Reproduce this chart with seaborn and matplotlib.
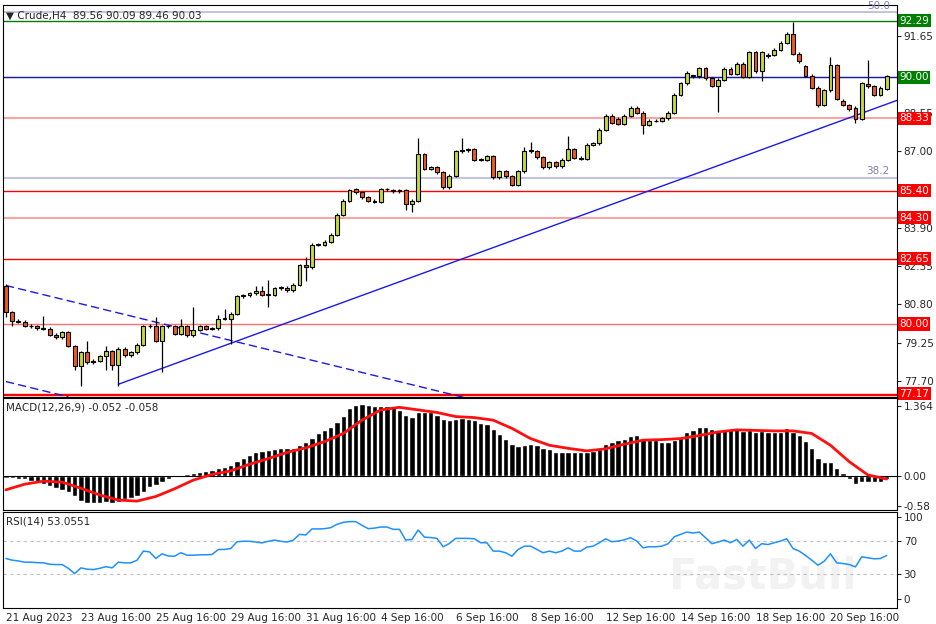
import numpy as np
import pandas as pd
import matplotlib
matplotlib.use("Agg")
import matplotlib.pyplot as plt
import matplotlib.transforms as mtrans
import seaborn as sns

# ---- data (H4 bars, index 0..141) ----
opens = [81.56, 80.48, 80.14, 80.10, 79.94, 79.90, 79.83, 79.81, 79.56, 79.47,
         79.67, 79.11, 78.30, 78.86, 78.46, 78.52, 78.69, 78.89, 78.35, 79.00,
         78.73, 78.86, 79.16, 79.90, 79.94, 79.33, 79.90, 79.90, 79.60, 79.90,
         79.54, 79.77, 79.90, 79.81, 79.83, 80.21, 80.21, 80.42, 81.12, 81.16,
         81.25, 81.32, 81.18, 81.18, 81.45, 81.47, 81.36, 81.60, 82.37, 82.30,
         83.21, 83.21, 83.34, 83.61, 84.42, 85.00, 85.45, 85.34, 85.14, 85.00,
         84.96, 85.45, 85.41, 85.38, 85.41, 84.87, 85.00, 86.87, 86.28, 86.35,
         86.15, 85.54, 86.01, 86.99, 87.03, 87.07, 86.65, 86.65, 86.80, 85.95,
         86.18, 85.99, 85.65, 86.18, 87.00, 87.00, 86.76, 86.35, 86.56, 86.39,
         86.65, 87.07, 86.73, 86.70, 87.26, 87.32, 87.86, 88.44, 88.31, 88.11,
         88.43, 88.75, 88.55, 88.08, 88.24, 88.23, 88.33, 88.55, 89.28, 89.75,
         90.04, 90.04, 90.36, 89.96, 89.65, 89.89, 90.33, 90.13, 90.54, 90.02,
         91.01, 90.24, 90.85, 90.90, 91.10, 91.39, 91.75, 90.94, 90.43, 90.06,
         89.56, 88.89, 89.46, 90.47, 89.05, 88.85, 88.75, 88.31, 89.73, 89.62,
         89.29, 89.52]
closes = [80.48, 80.14, 80.10, 79.94, 79.90, 79.83, 79.81, 79.56, 79.47, 79.67,
          79.11, 78.30, 78.86, 78.46, 78.52, 78.69, 78.89, 78.35, 79.00, 78.73,
          78.86, 79.16, 79.90, 79.94, 79.33, 79.90, 79.90, 79.60, 79.90, 79.54,
          79.77, 79.90, 79.81, 79.83, 80.21, 80.21, 80.42, 81.12, 81.16, 81.25,
          81.32, 81.18, 81.18, 81.45, 81.47, 81.36, 81.60, 82.37, 82.30, 83.21,
          83.21, 83.34, 83.61, 84.42, 85.00, 85.41, 85.34, 85.14, 85.00, 84.96,
          85.45, 85.45, 85.38, 85.41, 84.87, 85.00, 86.87, 86.28, 86.35, 86.15,
          85.54, 86.01, 86.99, 87.03, 87.07, 86.65, 86.65, 86.80, 85.95, 86.18,
          85.99, 85.65, 86.18, 87.00, 87.02, 86.76, 86.35, 86.56, 86.39, 86.65,
          87.07, 86.73, 86.70, 87.26, 87.32, 87.86, 88.44, 88.15, 88.11, 88.43,
          88.75, 88.55, 88.08, 88.24, 88.23, 88.33, 88.55, 89.28, 89.75, 90.17,
          90.04, 90.36, 89.96, 89.65, 89.89, 90.33, 90.13, 90.54, 90.02, 91.01,
          90.24, 91.01, 90.90, 91.10, 91.39, 91.75, 90.94, 90.64, 90.06, 89.56,
          88.85, 89.46, 90.47, 89.12, 88.89, 88.69, 88.31, 89.75, 89.62, 89.29,
          89.56, 90.03]
# bars with long wicks: index -> price
high_marks = {0: 81.62, 6: 80.31, 13: 79.31, 16: 79.10, 24: 80.28, 28: 80.21, 30: 80.68,
              34: 80.35, 35: 80.62, 40: 81.56, 41: 81.56, 42: 81.79, 48: 82.71, 66: 87.53,
              73: 87.53, 83: 87.16, 84: 87.36, 90: 87.60, 126: 92.22, 132: 90.83,
              133: 90.55, 138: 90.70}
low_marks = {0: 80.30, 1: 79.90, 11: 78.12, 12: 77.51, 16: 78.12, 17: 78.12, 18: 77.51,
             25: 78.05, 36: 79.20, 42: 80.68, 48: 81.76, 64: 84.60, 65: 84.55,
             102: 87.70, 114: 88.60, 121: 89.86, 136: 88.13}

macd_hist = [-0.03, -0.03, -0.05, -0.06, -0.10, -0.14, -0.16, -0.19, -0.24, -0.27,
             -0.31, -0.40, -0.49, -0.53, -0.53, -0.53, -0.51, -0.53, -0.50, -0.45,
             -0.42, -0.40, -0.32, -0.22, -0.18, -0.12, -0.05, -0.01, 0.02, 0.03,
             0.05, 0.07, 0.10, 0.12, 0.15, 0.18, 0.21, 0.29, 0.36, 0.41,
             0.46, 0.49, 0.51, 0.53, 0.54, 0.54, 0.55, 0.60, 0.66, 0.75,
             0.83, 0.90, 0.96, 1.06, 1.18, 1.32, 1.38, 1.40, 1.38, 1.37,
             1.37, 1.37, 1.35, 1.29, 1.20, 1.16, 1.24, 1.24, 1.24, 1.20,
             1.11, 1.09, 1.11, 1.14, 1.12, 1.10, 1.04, 1.01, 0.91, 0.81,
             0.73, 0.62, 0.58, 0.60, 0.62, 0.60, 0.55, 0.53, 0.47, 0.47,
             0.47, 0.46, 0.46, 0.46, 0.49, 0.53, 0.62, 0.67, 0.71, 0.73,
             0.79, 0.80, 0.75, 0.71, 0.70, 0.67, 0.67, 0.70, 0.77, 0.85,
             0.90, 0.96, 0.96, 0.92, 0.90, 0.90, 0.91, 0.91, 0.88, 0.90,
             0.85, 0.88, 0.85, 0.85, 0.86, 0.93, 0.86, 0.80, 0.68, 0.54,
             0.36, 0.27, 0.27, 0.15, 0.05, -0.05, -0.16, -0.12, -0.11, -0.12,
             -0.11, -0.06]
signal_idx = list(range(0, 73, 3)) + list(range(75, 142, 3))
signal_val = [-0.27, -0.16, -0.10, -0.12, -0.24, -0.37, -0.47, -0.49, -0.40, -0.25,
              -0.08, 0.03, 0.10, 0.23, 0.34, 0.46, 0.55, 0.67, 0.83, 1.09,
              1.29, 1.34, 1.29, 1.24, 1.16,
              1.14, 1.09, 0.93, 0.73, 0.60, 0.54, 0.49, 0.53, 0.62, 0.70,
              0.71, 0.73, 0.79, 0.86, 0.90, 0.89, 0.88, 0.88, 0.83, 0.60,
              0.28, 0.02, -0.06]
rsi = [49, 47, 46, 44.5, 44.5, 44, 43.7, 42, 41.6, 41.6, 37, 30.6, 37.6, 36, 35.5,
       37, 39, 37.6, 44.5, 43.7, 43.7, 47, 58, 57, 49, 54.7, 52, 51.8, 56, 53,
       53, 53.5, 53.5, 53.9, 60, 60, 61.2, 69.4, 70, 70, 69, 68, 70, 71.4, 70,
       69, 71.4, 78.4, 77.6, 85, 85, 85.3, 86.5, 90.6, 93, 93.9, 93.9, 89.4, 85.3, 86,
       87.3, 87.3, 84.5, 84.5, 71.4, 72.2, 83.7, 75, 74.5, 73.5, 63.3, 67.3, 73.5, 73.5, 73.5,
       73, 68.2, 68.2, 58, 58, 56, 51.8, 60, 64, 64, 60, 56, 58, 56, 58,
       62, 58, 58, 62.9, 64, 68.2, 73, 69.4, 70.2, 71.8, 74.3, 70.2, 62, 63.3, 63.3,
       64, 67, 75.5, 78.4, 81.2, 80, 81.2, 74.3, 67, 69, 71.4, 68.2, 72.2, 64, 71.4,
       61.2, 67, 66, 68.2, 70.2, 73, 61.2, 58, 52.7, 47, 40.8, 45.7, 54.7, 43.7, 42.9,
       41.6, 38.8, 51, 49.8, 48.6, 49, 52.7]

date_labels = ["21 Aug 2023", "23 Aug 16:00", "25 Aug 16:00", "29 Aug 16:00",
               "31 Aug 16:00", "4 Sep 16:00", "6 Sep 16:00", "8 Sep 16:00",
               "12 Sep 16:00", "14 Sep 16:00", "18 Sep 16:00", "20 Sep 16:00"]
date_idx = [0, 12, 24, 36, 48, 60, 72, 84, 96, 108, 120, 132]

price_ticks = [91.65, 88.55, 87.00, 83.90, 82.35, 80.80, 79.25, 77.70]
levels = [92.29, 90.00, 88.33, 85.40, 84.30, 82.65, 80.00, 77.17]
level_colors = ["#008000", "#1c1ca8", "#ff9090", "#ff0000", "#ff9090", "#ff0000", "#ff7070", "#ff0000"]
label_box_colors = ["#008000", "#008000", "#ff0000", "#ff0000", "#ff0000", "#ff0000", "#ff0000", "#ff0000"]
fib_levels = [92.62, 85.93]
fib_labels = ["50.0", "38.2"]
trend_pts = ([18, 143], [77.56, 89.09])
channel_upper = ([0, 73.3], [81.56, 77.03])
channel_lower = ([0, 10], [77.67, 77.05])

df = pd.DataFrame({"o": opens, "c": closes})
df["i"] = np.arange(len(df))
df["h"] = [high_marks.get(i, max(o, c) + 0.06) for i, o, c in zip(df.i, df.o, df.c)]
df["l"] = [low_marks.get(i, min(o, c) - 0.06) for i, o, c in zip(df.i, df.o, df.c)]

sns.set_style("white")
plt.rcParams["font.family"] = ["DejaVu Sans"]

fig = plt.figure(figsize=(9.36, 6.24), dpi=100)
ax = fig.add_axes([0.003, 0.364, 0.955, 0.628])
ax_m = fig.add_axes([0.003, 0.183, 0.955, 0.179])
ax_r = fig.add_axes([0.003, 0.026, 0.955, 0.154])
xlim = (-0.5, 142.6)

# ---- price panel ----
for y, col in zip(levels, level_colors):
    ax.axhline(y, color=col, lw=1.2 if col == "#ff9090" else 1.0, zorder=1)
ax.axhline(90.0, color="#008000", lw=0.8, zorder=0.9)
ax.axhline(77.12, color="#ff0000", lw=1.0, zorder=1)
for y, lab in zip(fib_levels, fib_labels):
    ax.axhline(y, color="#b8b8dc", lw=1.2, zorder=1)
    ax.text(141.5, y + 0.06, lab, color="#8080b0", fontsize=7.5, ha="right", va="bottom")
ax.plot(*trend_pts, color="#1a1ae6", lw=1.0, zorder=2)
ax.plot(*channel_upper, color="#1a1ae6", lw=1.0, ls=(0, (6, 3)), zorder=2)
ax.plot(*channel_lower, color="#1a1ae6", lw=1.0, ls=(0, (6, 3)), zorder=2)

bull = df.c >= df.o
ax.vlines(df.i, df.l, df.h, color="black", lw=0.9, zorder=3)
ax.bar(df.i[bull], (df.c - df.o)[bull].clip(lower=0.03), bottom=df.o[bull], width=0.62,
       color="#c6d93a", edgecolor="black", lw=0.8, zorder=4)
ax.bar(df.i[~bull], (df.o - df.c)[~bull], bottom=df.c[~bull], width=0.62,
       color="#f05a1e", edgecolor="black", lw=0.8, zorder=4)

ax.set_xlim(*xlim)
ax.set_ylim(77.05, 92.92)
ax.set_xticks([])
ax.yaxis.tick_right()
ax.set_yticks(price_ticks)
ax.set_yticklabels([f"{v:.2f}" for v in price_ticks], fontsize=7.5)
ax.tick_params(axis="y", length=3, pad=2)
tr = mtrans.blended_transform_factory(ax.transAxes, ax.transData)
for y, col in zip(levels, label_box_colors):
    ax.text(1.003, y, f"{y:.2f}", transform=tr, fontsize=7.5, color="white", va="center",
            ha="left", bbox=dict(boxstyle="square,pad=0.15", fc=col, ec="none"), zorder=10)
ax.text(0.004, 0.985, "\u25bc Crude,H4  89.56 90.09 89.46 90.03", transform=ax.transAxes,
        fontsize=7.5, va="top", ha="left")

# ---- MACD panel ----
ax_m.bar(np.arange(len(macd_hist)), macd_hist, width=0.85, color="black", zorder=2)
sns.lineplot(x=signal_idx, y=signal_val, ax=ax_m, color="#ff1010", lw=2, zorder=3)
ax_m.axhline(0, color="black", lw=0.8)
ax_m.set_xlim(*xlim)
ax_m.set_ylim(-0.66, 1.52)
ax_m.set_xticks([])
ax_m.yaxis.tick_right()
ax_m.set_yticks([1.364, 0.0, -0.58])
ax_m.set_yticklabels(["1.364", "0.00", "-0.58"], fontsize=7.5)
ax_m.tick_params(axis="y", length=3, pad=2)
ax_m.text(0.004, 0.96, "MACD(12,26,9) -0.052 -0.058", transform=ax_m.transAxes,
          fontsize=7.5, va="top")

# ---- RSI panel ----
ax_r.axhline(70, color="#c0c0c0", lw=0.8, ls=(0, (3, 3)))
ax_r.axhline(30, color="#c0c0c0", lw=0.8, ls=(0, (3, 3)))
sns.lineplot(x=np.arange(len(rsi)), y=rsi, ax=ax_r, color="#1e90ff", lw=1.1)
ax_r.text(0.85, 0.33, "FastBull", transform=ax_r.transAxes, fontsize=30, fontweight="bold",
          color="#f2f2f2", ha="center", va="center", zorder=0)
ax_r.set_xlim(*xlim)
ax_r.set_ylim(-11, 106)
ax_r.yaxis.tick_right()
ax_r.set_yticks([100, 70, 30, 0])
ax_r.set_yticklabels(["100", "70", "30", "0"], fontsize=7.5)
ax_r.tick_params(axis="y", length=3, pad=2)
ax_r.set_xticks(date_idx)
ax_r.set_xticklabels(date_labels, fontsize=7.5, ha="left")
ax_r.tick_params(axis="x", length=3, pad=1)
ax_r.set_ylabel("")
ax_r.text(0.004, 0.95, "RSI(14) 53.0551", transform=ax_r.transAxes, fontsize=7.5, va="top")

for a in (ax, ax_m, ax_r):
    for s in a.spines.values():
        s.set_color("black")
        s.set_linewidth(0.8)

fig.savefig("out.png", dpi=100)
